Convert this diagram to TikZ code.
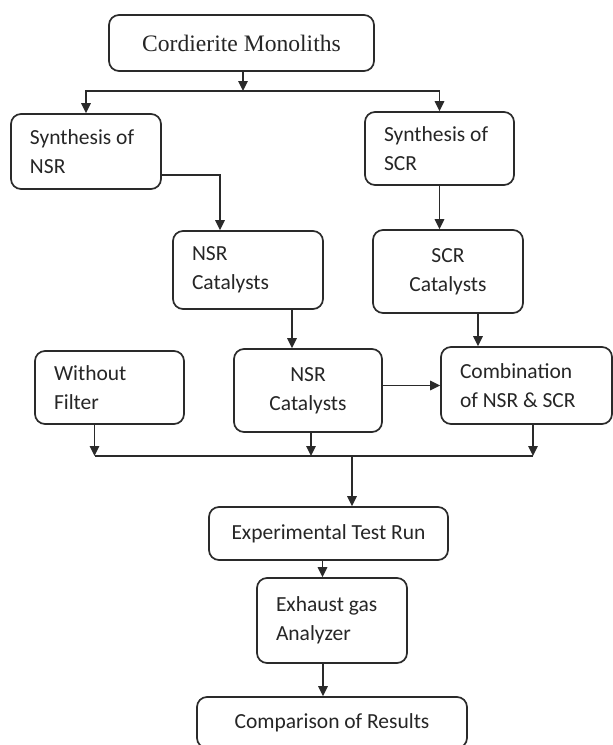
\documentclass[tikz,border=0pt]{standalone}
\usepackage{fontspec}
\setmainfont{Carlito}
\newfontfamily\seriffamily{Liberation Serif}
\usetikzlibrary{arrows.meta}
\definecolor{boxline}{HTML}{2A2A2A}
\definecolor{boxtext}{HTML}{262626}
\begin{document}
\begin{tikzpicture}[x=1pt,y=-1pt,
    flowbox/.style={draw=boxline, line width=1.7pt, rounded corners=10pt, text=boxtext,
      inner xsep=19pt, inner ysep=0pt, font=\fontsize{21.5}{29}\selectfont},
    flowarrow/.style={draw=boxline, line width=1.7pt, -{Triangle[length=10pt,width=9.5pt]}},
    flowline/.style={draw=boxline, line width=1.7pt}]
      \clip (0,0) rectangle (613,745);
      \fill[white] (0,0) rectangle (613,745);
      % boxes
      \node[flowbox, minimum width=265pt, minimum height=56pt, font=\seriffamily\fontsize{23.6}{28}\selectfont] (mono) at (241.5,43) {Cordierite Monoliths};
      \node[flowbox, text width=112pt, minimum height=75pt, align=flush left] (synN) at (86,151.5) {Synthesis of\\NSR};
      \node[flowbox, text width=111pt, minimum height=73pt, align=flush left] (synS) at (439.5,148.5) {Synthesis of\\SCR};
      \node[flowbox, text width=112pt, minimum height=78pt, align=flush left] (catN) at (248,270) {NSR\\Catalysts};
      \node[flowbox, text width=112pt, minimum height=83pt, align=flush center] (catS) at (448,271.5) {SCR\\Catalysts};
      \node[flowbox, text width=111pt, minimum height=73pt, align=flush left] (nofil) at (109.5,387.5) {Without\\Filter};
      \node[flowbox, text width=110pt, minimum height=83pt, align=flush center] (catN2) at (308,390.5) {NSR\\Catalysts};
      \node[flowbox, text width=133pt, minimum height=77pt, align=flush left] (comb) at (526.5,385.5) {Combination\\of NSR \& SCR};
      \node[flowbox, minimum width=239pt, minimum height=53pt] (test) at (328.5,533.5) {Experimental Test Run};
      \node[flowbox, text width=112pt, minimum height=85pt, align=flush left] (gas) at (332,620.5) {Exhaust gas\\Analyzer};
      \node[flowbox, minimum width=270pt, minimum height=51pt] (result) at (332,722.5) {Comparison of Results};
      % connectors
      \coordinate (split) at (243,91);
      \coordinate (merge) at (352,456);
      \draw[flowarrow] (mono.south -| split) -- (split);
      \draw[flowarrow] (split) -| (synN.north);
      \draw[flowarrow] (split) -| (synS.north);
      \draw[flowarrow] ([yshift=-23.5pt]synN.east) -| ([xshift=-28pt]catN.north);
      \draw[flowarrow] (synS.south) -- (synS.south |- catS.north);
      \draw[flowarrow] ([xshift=44pt]catN.south) -- ([xshift=44pt]catN.south |- catN2.north);
      \draw[flowarrow] ([xshift=30pt]catS.south) -- ([xshift=30pt]catS.south |- comb.north);
      \draw[flowarrow] (catN2.east |- comb.west) -- (comb.west);
      \draw[flowarrow] ([xshift=-15pt]nofil.south) -- ([xshift=-15pt]nofil.south |- merge);
      \draw[flowarrow] ([xshift=3pt]catN2.south) -- ([xshift=3pt]catN2.south |- merge);
      \draw[flowarrow] ([xshift=6.5pt]comb.south) -- ([xshift=6.5pt]comb.south |- merge);
      \draw[flowline] ([xshift=-15pt]nofil.south |- merge) -- ([xshift=6.5pt]comb.south |- merge);
      \draw[flowarrow] (merge) -- (merge |- test.north);
      \draw[flowarrow] ([xshift=-6pt]test.south) -- ([xshift=-6pt]test.south |- gas.north);
      \draw[flowarrow] ([xshift=-9pt]gas.south) -- ([xshift=-9pt]gas.south |- result.north);
\end{tikzpicture}
\end{document}
